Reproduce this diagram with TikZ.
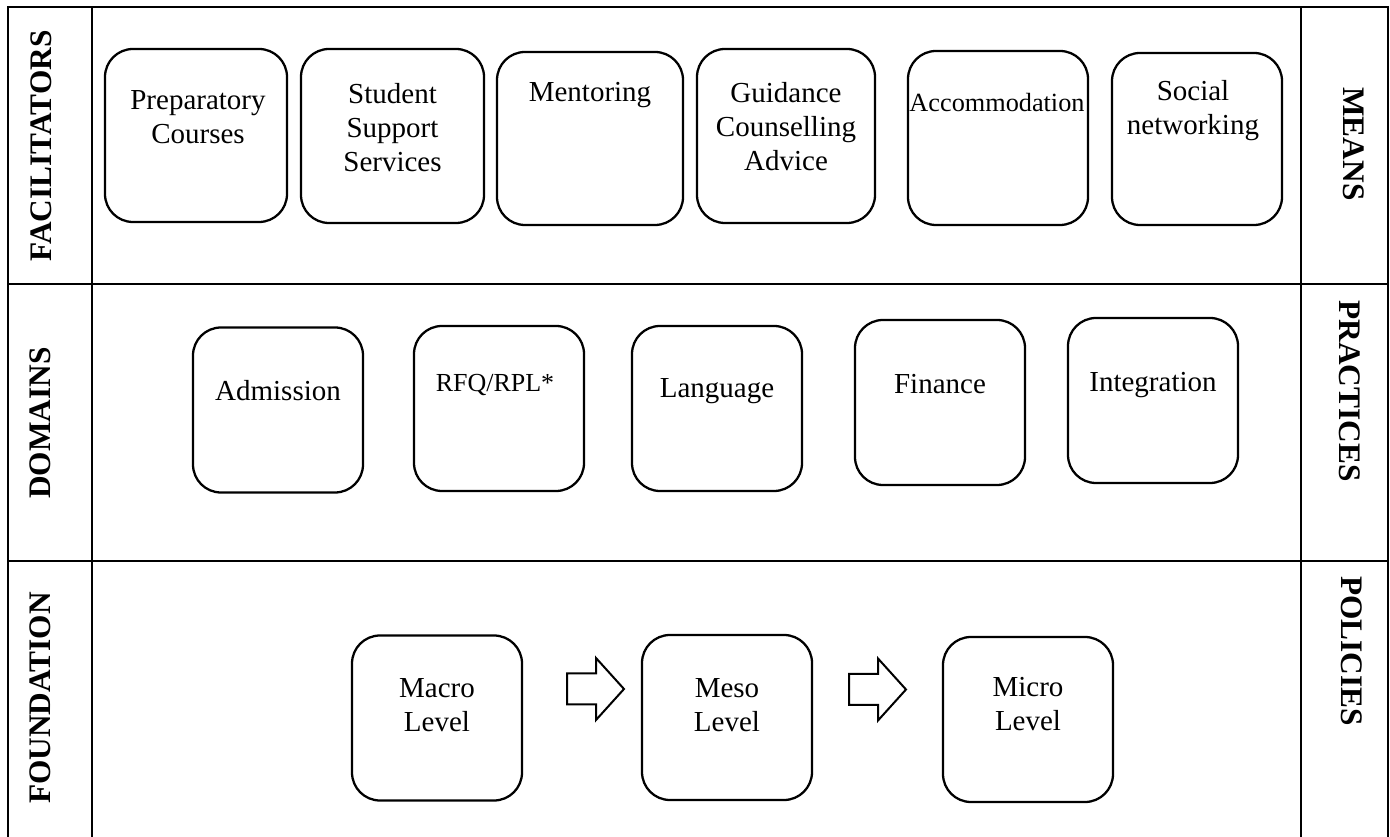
\documentclass[tikz,border=0pt]{standalone}
\usepackage{fontspec}
\setmainfont{Liberation Serif}

\tikzset{
  box/.style={draw, line width=1.7pt, rounded corners=21pt, inner sep=0pt},
  sqbox/.style={box, minimum width=127.5pt, minimum height=123.75pt},
  txt/.style={font=\fontsize{21.75}{25.5}\selectfont, align=center, anchor=north, inner sep=0pt},
  side/.style={font=\fontsize{23.5}{28}\selectfont\bfseries, inner sep=0pt},
  rule/.style={line width=2pt},
  blk/.style={draw, line width=1.5pt}
}

\begin{document}
\begin{tikzpicture}[x=0.75pt,y=-0.75pt]
  \def\W{1390}  % width  (px units, y runs down)
  \def\H{837}   % height
  \def\edgeL{8} \def\edgeR{1388}   % outer edges
  \def\colL{92} \def\colR{1301}    % side columns
  \def\rowA{284} \def\rowB{561}    % row dividers
  \useasboundingbox (0,0) rectangle (\W,\H);

  % Frame and dividers (the table runs on below the page)
  \draw[rule] (\edgeL,\H+5) -- (\edgeL,7) -- (\edgeR,7) -- (\edgeR,\H+5);
  \draw[rule] (\colL,7) -- (\colL,\H+5);
  \draw[rule] (\colR,7) -- (\colR,\H+5);
  \draw[rule] (\edgeL,\rowA) -- (\edgeR,\rowA);
  \draw[rule] (\edgeL,\rowB) -- (\edgeR,\rowB);

  % Row titles, left and right
  \node[side, rotate=90] (facil) at (41,146) {FACILITATORS};
  \node[side, rotate=90] (domains) at (40,423) {DOMAINS};
  \node[side, rotate=90] (found) at (40,698) {FOUNDATION};
  \node[side, rotate=-90] (means) at (1354,144) {MEANS};
  \node[side, rotate=-90] (pract) at (1350,391) {PRACTICES};
  \node[side, rotate=-90] (pol) at (1352,651) {POLICIES};

  % Top row: facilitators
  \node[box, minimum width=136.5pt, minimum height=129.75pt] (prep) at (196,135.5) {};
  \node[txt] (prep-t) at (198,90) {Preparatory\\Courses};
  \node[box, minimum width=137.25pt, minimum height=130.5pt] (sss) at (392.5,136) {};
  \node[txt] (sss-t) at (392.5,83) {Student\\Support\\Services};
  \node[box, minimum width=139.5pt, minimum height=129.75pt] (ment) at (590,138.5) {};
  \node[txt] (ment-t) at (590,82) {Mentoring};
  \node[box, minimum width=133.5pt, minimum height=130.5pt] (guid) at (786,136) {};
  \node[txt] (guid-t) at (786,82) {Guidance\\Counselling\\Advice};
  \node[box, minimum width=135pt, minimum height=130.5pt] (acc) at (998,138) {};
  \node[txt, font=\fontsize{19.7}{23}\selectfont] (acc-t) at (997,93) {Accommodation};
  \node[box, minimum width=127.5pt, minimum height=129pt] (soc) at (1197,139) {};
  \node[txt] (soc-t) at (1193,80) {Social\\networking};

  % Middle row: domains
  \node[sqbox] (adm) at (278,410) {};
  \node[txt] (adm-t) at (278,380) {Admission};
  \node[sqbox] (rfq) at (499,408.5) {};
  \node[txt, font=\fontsize{19.5}{23}\selectfont] (rfq-t) at (495,374) {RFQ/RPL*};
  \node[sqbox] (lang) at (717,408.5) {};
  \node[txt] (lang-t) at (717,378) {Language};
  \node[sqbox] (fin) at (940,402.5) {};
  \node[txt] (fin-t) at (940,374) {Finance};
  \node[sqbox] (integ) at (1153,400.5) {};
  \node[txt] (integ-t) at (1153,372) {Integration};

  % Bottom row: policy levels
  \node[sqbox] (macro) at (437,718) {};
  \node[txt] (macro-t) at (437,678) {Macro\\Level};
  \node[sqbox] (meso) at (727,717.5) {};
  \node[txt] (meso-t) at (727,678) {Meso\\Level};
  \node[sqbox] (micro) at (1028,719.5) {};
  \node[txt] (micro-t) at (1028,677) {Micro\\Level};

  % Hollow block arrows between the levels
  \foreach \ax/\ay in {567/689, 849/689.5}
    \draw[blk] (\ax,\ay-15.5) -- ++(29,0) -- ++(0,-15.5) -- ++(28,31)
      -- ++(-28,31) -- ++(0,-15.5) -- ++(-29,0) -- cycle;
\end{tikzpicture}
\end{document}
